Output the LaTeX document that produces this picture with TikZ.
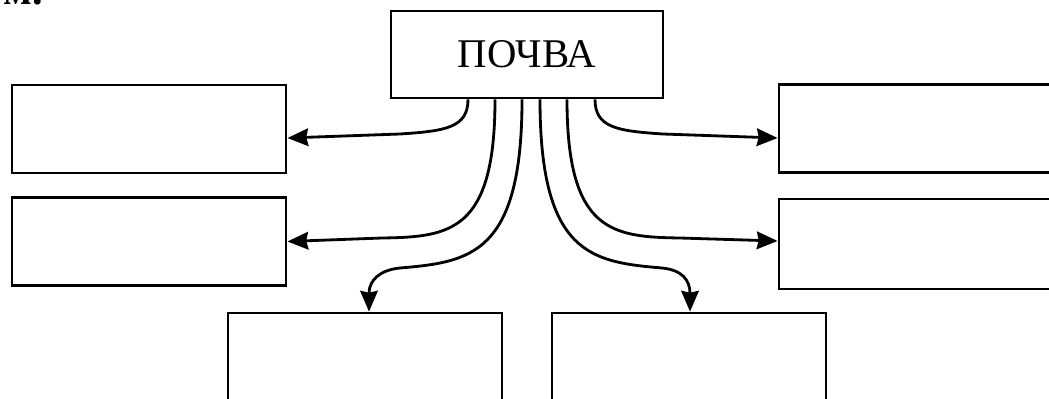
\documentclass[tikz,border=0pt]{standalone}
\usepackage{fontspec}
\setmainfont{Liberation Serif}
\usetikzlibrary{calc,arrows.meta}

\begin{document}
\begin{tikzpicture}[x=0.025cm,y=-0.025cm,line width=2pt,
        flow/.style={-{Stealth[length=0.52cm,width=0.44cm,inset=0.05cm]}},
        box/.style={draw,rectangle,inner sep=0pt,minimum width=6.85cm,minimum height=2.2cm}]
        % --- 1. Frame (pixel units, y downwards) ---
        \useasboundingbox (0,0) rectangle (1049,399);
        \node[anchor=base east,inner sep=0pt,font=\bfseries\fontsize{30}{36}\selectfont] (Tail) at (44,5) {м.};

        % --- 2. Boxes ---
        \node[box,minimum width=6.8cm,minimum height=2.175cm,font=\fontsize{29}{34}\selectfont] (Soil) at (527,54.5) {ПОЧВА};
        \node[box] (L1) at (149,129) {};
        \node[box] (L2) at (149,241.5) {};
        \node[box] (R1) at (916,128.5) {};
        \node[box,minimum height=2.25cm] (R2) at (916,244) {};
        \node[box] (B1) at (365,357) {};
        \node[box] (B2) at (689,357) {};

        % --- 3. Start points under the soil box ---
        \coordinate (S1) at ($(Soil.south)+(-59,0)$);
        \coordinate (S2) at ($(Soil.south)+(-32,0)$);
        \coordinate (S3) at ($(Soil.south)+(-5,0)$);
        \coordinate (S4) at ($(Soil.south)+(13,0)$);
        \coordinate (S5) at ($(Soil.south)+(40,0)$);
        \coordinate (S6) at ($(Soil.south)+(68,0)$);

        % --- 4. Left branches ---
        \draw[flow] (S1) .. controls (468,128) and (445,131) .. (400,134) -- ($(L1.east)+(0,9)$);
        \draw[flow] (S2) .. controls (495,232) and (450,237) .. (382,238) -- (L2.east);

        % --- 5. Right branches ---
        \draw[flow] (S6) .. controls (595,128) and (618,131) .. (663,134) -- ($(R1.west)+(0,9.5)$);
        \draw[flow] (S5) .. controls (567,232) and (612,237) .. (680,238) -- ($(R2.west)+(0,-3)$);

        % --- 6. Bottom branches ---
        \draw[flow] (S3) .. controls (522,255) and (470,262) .. (400,268)
                .. controls (380,270) and (369,280) .. ($(B1.north)+(4,0)$);
        \draw[flow] (S4) .. controls (540,255) and (592,262) .. (662,268)
                .. controls (682,270) and (690,280) .. ($(B2.north)+(1,0)$);
    \end{tikzpicture}
\end{document}
